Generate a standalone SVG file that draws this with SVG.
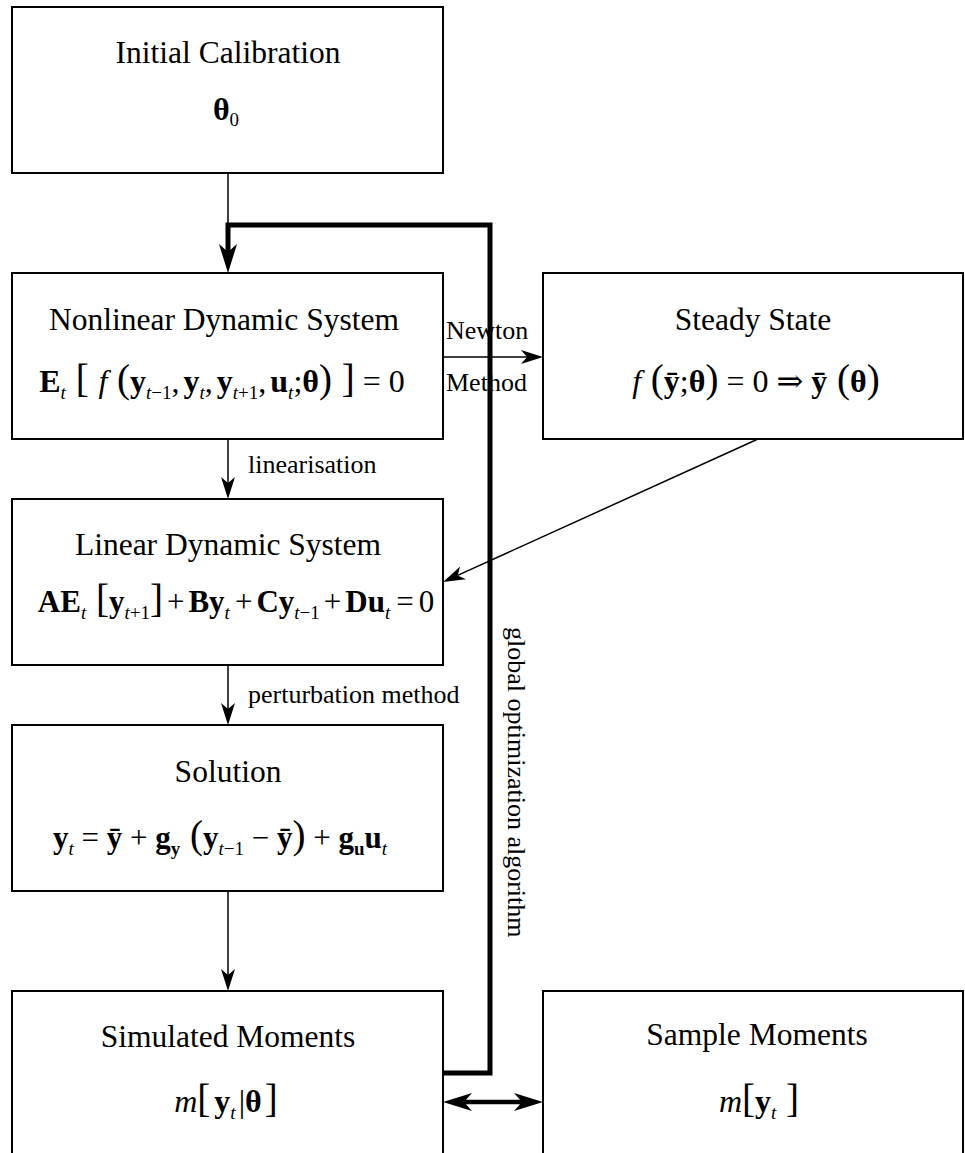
<svg xmlns="http://www.w3.org/2000/svg" width="965" height="1153" viewBox="0 0 965 1153">
<style>
text{font-family:"Liberation Serif","DejaVu Serif",serif;fill:#000}
.title{font-size:31.5px;text-anchor:middle}
.eq{font-size:32px;text-anchor:middle}
.eq31{font-size:31px;text-anchor:middle}
.lbl{font-size:26px}
.b{font-weight:bold}
.i{font-style:italic}
.s{font-style:italic;font-size:19px}
.sn{font-size:19px}
.sb{font-weight:bold;font-size:19px}
.br{font-size:39px}
.box{fill:#fff;stroke:#000;stroke-width:2}
.thin{fill:none;stroke:#000;stroke-width:1.5}
.thick{fill:none;stroke:#000;stroke-width:5}
</style>
<defs>
<marker id="ah" markerUnits="userSpaceOnUse" markerWidth="30" markerHeight="20" refX="6" refY="10" orient="auto" overflow="visible">
<path d="M0,3 L22,10 L0,17 L6,10 Z" fill="#000"/>
</marker>
<marker id="ahT" markerUnits="userSpaceOnUse" markerWidth="40" markerHeight="24" refX="8" refY="12" orient="auto-start-reverse" overflow="visible">
<path d="M0,3 L29,12 L0,21 L8,12 Z" fill="#000"/>
</marker>
</defs>

<g id="node-initial">
<rect class="box" x="12" y="7" width="431" height="166"/>
<text class="title" x="228" y="63">Initial Calibration</text>
<text class="eq" x="226" y="120"><tspan class="b">θ</tspan><tspan class="sn" dy="6">0</tspan></text>
</g>

<g id="node-nonlinear">
<rect class="box" x="12" y="273" width="431" height="166"/>
<text class="title" x="224" y="330">Nonlinear Dynamic System</text>
<text class="eq" x="222" y="392"><tspan class="b">E</tspan><tspan class="s" dy="7">t</tspan><tspan class="br" dy="-7"> [ </tspan><tspan class="i">f</tspan><tspan class="br"> (</tspan><tspan class="b">y</tspan><tspan class="s" dy="7">t</tspan><tspan class="sn">−1</tspan><tspan dy="-7">,</tspan><tspan class="b" dx="4">y</tspan><tspan class="s" dy="7">t</tspan><tspan dy="-7">,</tspan><tspan class="b" dx="4">y</tspan><tspan class="s" dy="7">t</tspan><tspan class="sn">+1</tspan><tspan dy="-7">,</tspan><tspan class="b" dx="4">u</tspan><tspan class="s" dy="7">t</tspan><tspan dy="-7">;</tspan><tspan class="b">θ</tspan><tspan class="br">) ]</tspan><tspan> = 0</tspan></text>
</g>

<g id="node-steady">
<rect class="box" x="543" y="273" width="420" height="166"/>
<text class="title" x="753" y="330">Steady State</text>
<text class="eq" x="756" y="392"><tspan class="i">f</tspan><tspan class="br"> (</tspan><tspan class="b">ȳ</tspan><tspan>;</tspan><tspan class="b">θ</tspan><tspan class="br">)</tspan><tspan> = 0 ⇒ </tspan><tspan class="b">ȳ</tspan><tspan class="br"> (</tspan><tspan class="b">θ</tspan><tspan class="br">)</tspan></text>
</g>

<g id="node-linear">
<rect class="box" x="12" y="499" width="431" height="166"/>
<text class="title" x="228" y="555">Linear Dynamic System</text>
<text class="eq31" x="236" y="612"><tspan class="b">AE</tspan><tspan class="s" dy="7">t</tspan><tspan class="br" dy="-7"> [</tspan><tspan class="b">y</tspan><tspan class="s" dy="7">t</tspan><tspan class="sn">+1</tspan><tspan class="br" dy="-7">]</tspan><tspan dx="4">+</tspan><tspan class="b" dx="4">By</tspan><tspan class="s" dy="7">t</tspan><tspan dy="-7" dx="5">+</tspan><tspan class="b" dx="4">Cy</tspan><tspan class="s" dy="7">t</tspan><tspan class="sn">−1</tspan><tspan dy="-7" dx="4">+</tspan><tspan class="b" dx="4">Du</tspan><tspan class="s" dy="7">t</tspan><tspan dy="-7" dx="6">=</tspan><tspan dx="5">0</tspan></text>
</g>

<g id="node-solution">
<rect class="box" x="12" y="725" width="431" height="166"/>
<text class="title" x="228" y="782">Solution</text>
<text class="eq31" x="220" y="848"><tspan class="b">y</tspan><tspan class="s" dy="7">t</tspan><tspan dy="-7"> = </tspan><tspan class="b">ȳ</tspan><tspan> + </tspan><tspan class="b">g</tspan><tspan class="sb" dy="7">y</tspan><tspan class="br" dy="-7"> (</tspan><tspan class="b">y</tspan><tspan class="s" dy="7">t</tspan><tspan class="sn">−1</tspan><tspan dy="-7"> − </tspan><tspan class="b">ȳ</tspan><tspan class="br">)</tspan><tspan> + </tspan><tspan class="b">g</tspan><tspan class="sb" dy="7">u</tspan><tspan class="b" dy="-7">u</tspan><tspan class="s" dy="7">t</tspan></text>
</g>

<g id="node-simulated">
<rect class="box" x="12" y="991" width="431" height="170"/>
<text class="title" x="228" y="1047">Simulated Moments</text>
<text class="eq" x="226" y="1112"><tspan class="i">m</tspan><tspan class="br">[</tspan><tspan class="b" dx="4">y</tspan><tspan class="s" dy="7">t</tspan><tspan dy="-7" dx="3">|</tspan><tspan class="b">θ</tspan><tspan class="br" dx="3">]</tspan></text>
</g>

<g id="node-sample">
<rect class="box" x="543" y="991" width="420" height="170"/>
<text class="title" x="757" y="1045">Sample Moments</text>
<text class="eq" x="759" y="1112"><tspan class="i">m</tspan><tspan class="br">[</tspan><tspan class="b">y</tspan><tspan class="s" dy="7">t</tspan><tspan class="br" dy="-7"> ]</tspan></text>
</g>

<g id="connectors">
<line class="thin" x1="228" y1="173" x2="228" y2="226"/>
<path class="thick" d="M443,1073 H490 V225 H228 V252" marker-end="url(#ahT)"/>
<line class="thin" x1="443" y1="357" x2="527" y2="357" marker-end="url(#ah)"/>
<line class="thin" x1="228" y1="439" x2="228" y2="483" marker-end="url(#ah)"/>
<line class="thin" x1="758" y1="439" x2="457.6" y2="575.4" marker-end="url(#ah)"/>
<line class="thin" x1="228" y1="665" x2="228" y2="709" marker-end="url(#ah)"/>
<line class="thin" x1="228" y1="891" x2="228" y2="975" marker-end="url(#ah)"/>
<line x1="464" y1="1102" x2="522" y2="1102" stroke="#000" stroke-width="4.5" marker-start="url(#ahT)" marker-end="url(#ahT)"/>
<text class="lbl" x="446" y="339">Newton</text>
<text class="lbl" x="446" y="391">Method</text>
<text class="lbl" x="248" y="473">linearisation</text>
<text class="lbl" x="248" y="703">perturbation method</text>
<text class="lbl" transform="translate(508,627) rotate(90)">global optimization algorithm</text>
</g>
</svg>
